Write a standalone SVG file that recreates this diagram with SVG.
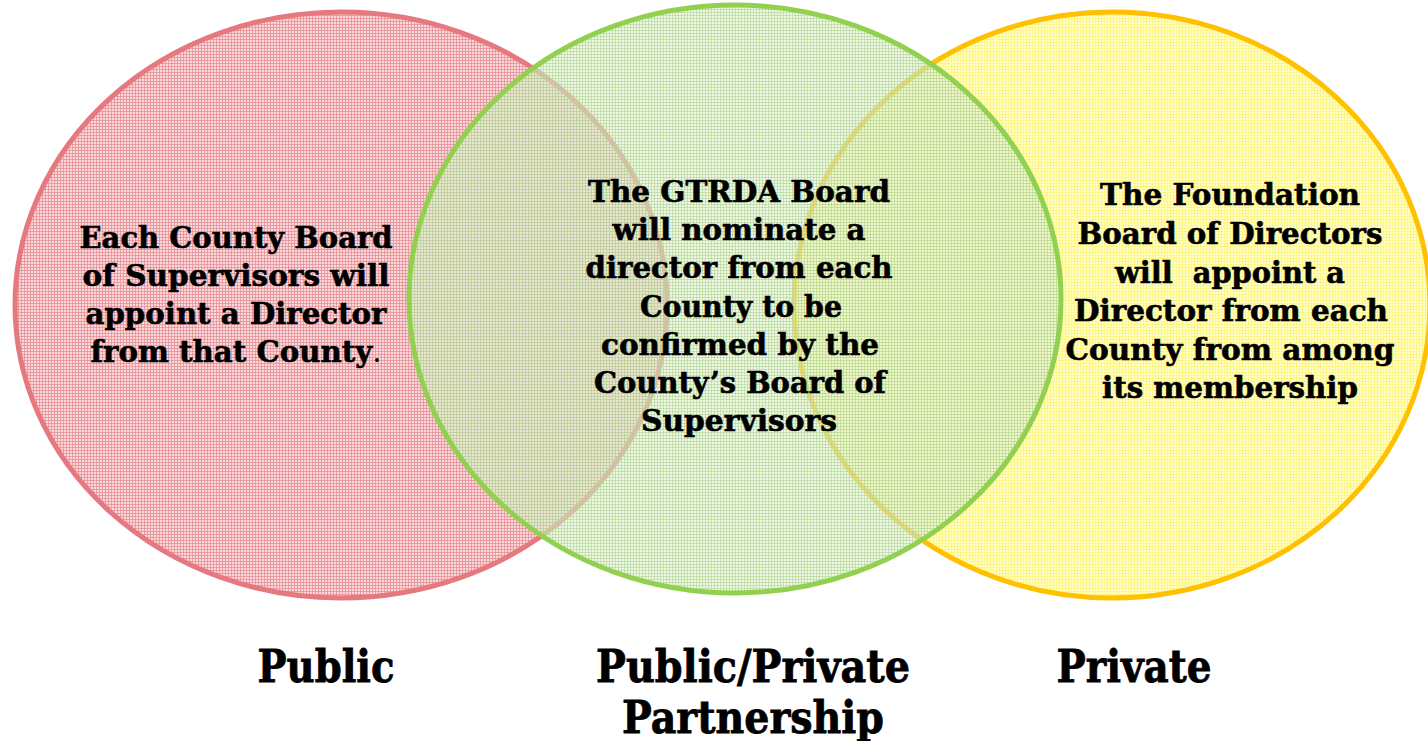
<svg xmlns="http://www.w3.org/2000/svg" width="1428" height="741" viewBox="0 0 1428 741">
<style>
.t{font-family:"DejaVu Serif","Liberation Serif",serif;font-weight:bold;font-size:29px;fill:#000;stroke:#000;stroke-width:0.6;text-anchor:middle;}
.l{font-family:"DejaVu Serif","Liberation Serif",serif;font-weight:bold;font-size:44px;fill:#000;stroke:#000;stroke-width:0.8;text-anchor:middle;}
.pre{white-space:pre;}
</style>
<defs>
<pattern id="pr" width="3" height="3" patternUnits="userSpaceOnUse">
<rect width="3" height="3" fill="#F7D0D2" fill-opacity="0.8"/>
<path d="M0 0.5H3M0.5 0V3" stroke="#E78F95" stroke-width="1" stroke-opacity="0.78"/>
</pattern>
<pattern id="pg" width="3" height="3" patternUnits="userSpaceOnUse">
<rect width="3" height="3" fill="#E0EFD0" fill-opacity="0.55"/>
<path d="M0 0.5H3M0.5 0V3" stroke="#AFD58E" stroke-width="1" stroke-opacity="0.6"/>
</pattern>
<pattern id="py" width="3" height="3" patternUnits="userSpaceOnUse">
<rect width="3" height="3" fill="#FFFFC0" fill-opacity="0.85"/>
<path d="M0 0.5H3M0.5 0V3" stroke="#FFF47A" stroke-width="1" stroke-opacity="0.8"/>
</pattern>
</defs>
<rect width="1428" height="741" fill="#fff"/>
<g id="public">
<ellipse cx="341" cy="305" rx="326" ry="293" fill="url(#pr)" stroke="#E5797F" stroke-width="5"/>
<text class="t" x="236" y="248" textLength="313" lengthAdjust="spacingAndGlyphs">Each County Board</text>
<text class="t" x="236" y="286" textLength="307" lengthAdjust="spacingAndGlyphs">of Supervisors will</text>
<text class="t" x="236" y="324" textLength="301" lengthAdjust="spacingAndGlyphs">appoint a Director</text>
<text class="t" x="236" y="362" textLength="291" lengthAdjust="spacingAndGlyphs">from that County<tspan font-weight="normal" stroke-width="0">.</tspan></text>
<text class="l" x="326" y="682" textLength="137" lengthAdjust="spacingAndGlyphs">Public</text>
</g>
<g id="private">
<ellipse cx="1112" cy="305" rx="318" ry="293" fill="url(#py)" stroke="#FFC000" stroke-width="5"/>
<text class="t" x="1230" y="205" textLength="260" lengthAdjust="spacingAndGlyphs">The Foundation</text>
<text class="t" x="1230" y="244" textLength="305" lengthAdjust="spacingAndGlyphs">Board of Directors</text>
<text class="t pre" x="1230" y="283" textLength="230" lengthAdjust="spacingAndGlyphs">will  appoint a</text>
<text class="t" x="1231" y="321" textLength="314" lengthAdjust="spacingAndGlyphs">Director from each</text>
<text class="t" x="1230" y="360" textLength="329" lengthAdjust="spacingAndGlyphs">County from among</text>
<text class="t" x="1230" y="398" textLength="256" lengthAdjust="spacingAndGlyphs">its membership</text>
<text class="l" x="1134" y="682" textLength="155" lengthAdjust="spacingAndGlyphs">Private</text>
</g>
<g id="partnership">
<ellipse cx="735" cy="299" rx="326" ry="294" fill="url(#pg)" stroke="#92D050" stroke-width="5"/>
<text class="t" x="739" y="202" textLength="302" lengthAdjust="spacingAndGlyphs">The GTRDA Board</text>
<text class="t" x="739" y="240" textLength="253" lengthAdjust="spacingAndGlyphs">will nominate a</text>
<text class="t" x="739" y="278" textLength="307" lengthAdjust="spacingAndGlyphs">director from each</text>
<text class="t" x="741" y="317" textLength="202" lengthAdjust="spacingAndGlyphs">County to be</text>
<text class="t" x="740" y="355" textLength="278" lengthAdjust="spacingAndGlyphs">confirmed by the</text>
<text class="t" x="740" y="393" textLength="292" lengthAdjust="spacingAndGlyphs">County’s Board of</text>
<text class="t" x="739" y="431" textLength="196" lengthAdjust="spacingAndGlyphs">Supervisors</text>
<text class="l" x="753" y="682" textLength="314" lengthAdjust="spacingAndGlyphs">Public/Private</text>
<text class="l" x="753" y="733" textLength="262" lengthAdjust="spacingAndGlyphs">Partnership</text>
</g>
</svg>
